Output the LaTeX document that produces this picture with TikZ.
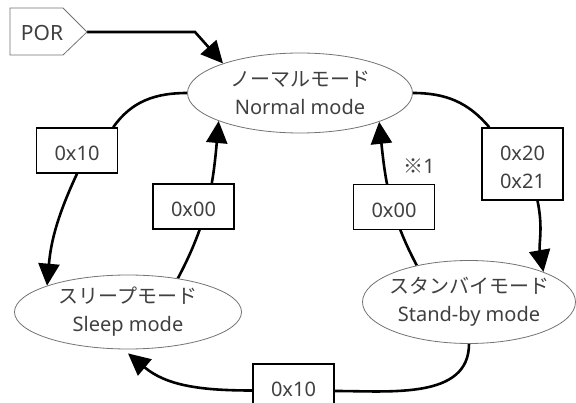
\documentclass[tikz,border=0pt]{standalone}
\usepackage{fontspec}
\setmainfont{Noto Sans}
\newfontfamily\jp{Noto Sans CJK JP}
\usetikzlibrary{shapes.geometric,arrows.meta,backgrounds,calc}
\newcommand\mystrut{\rule{0pt}{21pt}}
\begin{document}
\begin{tikzpicture}[x=1pt,y=-1pt,
  txt/.style={font=\fontsize{20}{28}\selectfont, text=black!75},
  mode/.style={ellipse, draw=black!55, line width=0.8pt, fill=white, inner xsep=-8pt, inner ysep=0pt, align=center, txt},
  lbl/.style={rectangle, draw=black, line width=1.5pt, fill=white, minimum width=81pt, minimum height=45pt, inner sep=0pt, align=center, txt},
  conn/.style={line width=2.6pt, -{Triangle[length=22pt,width=21pt]}},
  plain/.style={line width=2.6pt},
  tag/.style={draw=black!55, line width=0.8pt, fill=white}
]
\useasboundingbox (0,0) rectangle (576,403);
\clip (0,0) rectangle (576,403);

% POR tag
\draw[tag] (10,8) -- (63,8) -- (87,32) -- (63,55) -- (10,55) -- cycle;
\node[txt, font=\fontsize{21}{28}\selectfont] (por) at (42,33) {POR};
\coordinate (portip) at (87,32);

% modes
\node[mode, minimum width=225pt, minimum height=80pt] (normal) at (300,93) {{\jp ノーマルモード}\\Normal mode};
\node[mode, minimum width=227pt, minimum height=74pt] (sleep) at (128,312) {{\jp スリープモード}\\Sleep mode};
\node[mode, minimum width=213pt, minimum height=83pt] (standby) at (469,302) {{\jp スタンバイモード}\\Stand-by mode};

% labels
\node[lbl] (b10l) at (77,150.5) {\mystrut 0x10};
\node[lbl] (b00l) at (193.5,206.5) {\mystrut 0x00};
\node[lbl] (b00r) at (394,207) {\mystrut 0x00};
\node[lbl, minimum height=72pt] (b2021) at (522.5,164) {\mystrut 0x20\\0x21};
\node[lbl] (b10b) at (293.5,386.5) {\mystrut 0x10};
\node[txt] (note) at (419,166.5) {{\jp ※}1};

\begin{scope}[on background layer]
\draw[conn] (portip) -- (195,32) -- (normal.159);
\draw[plain] (normal.west) to[out=180,in=55] ($(b10l.north east)+(-5,0)$);
\draw[conn] (b10l.south) to[out=-115,in=85] (sleep.162);
\draw[conn] (sleep.34) to[out=62,in=-95] (normal.199.3);
\draw[conn] (standby.145) to[out=118,in=-84] (normal.340.7);
\draw[plain] (normal.east) to[out=0,in=130] ($(b2021.north west)+(8,0)$);
\draw[conn] ($(b2021.south)+(15,0)$) to[out=-78,in=100] (standby.22);
\draw[plain] (standby.south) to[out=-90,in=0] ($(b10b.east)+(0,4.5)$);
\draw[conn] ($(b10b.west)+(0,4)$) to[out=180,in=-40] ($(sleep.south)+(0,4)$);
\end{scope}
\end{tikzpicture}
\end{document}
